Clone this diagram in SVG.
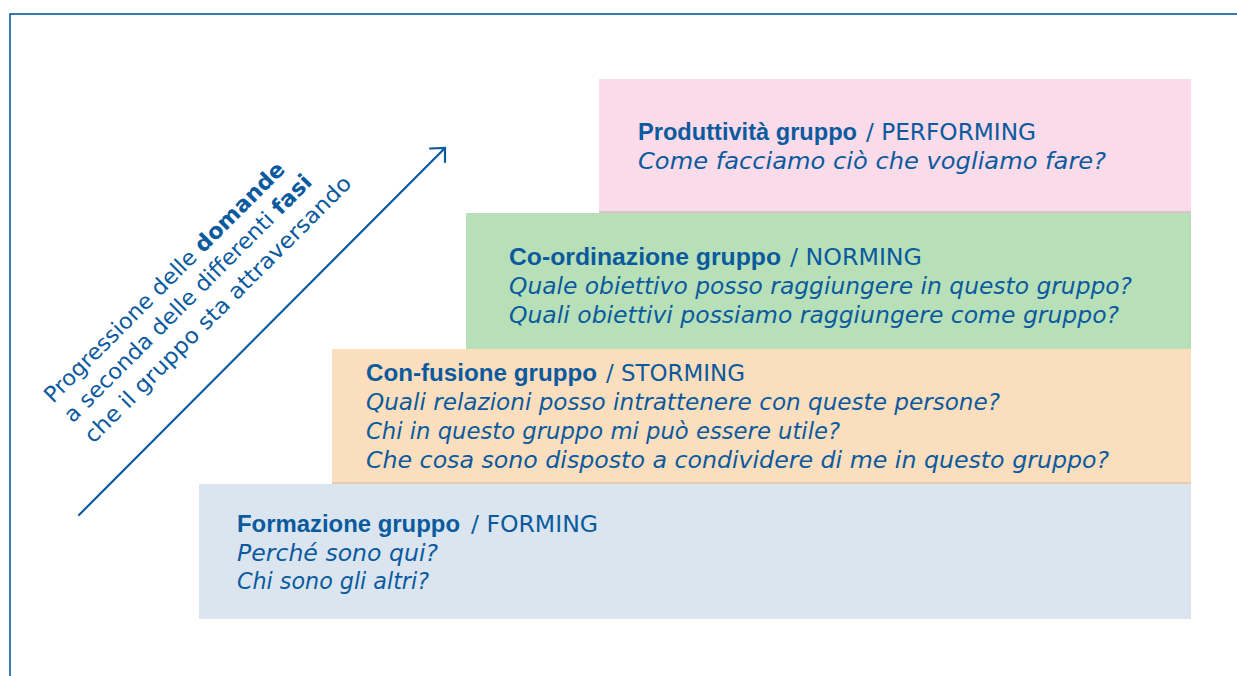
<svg xmlns="http://www.w3.org/2000/svg" width="1237" height="676" viewBox="0 0 1237 676">
<style>
  text { font-family: "DejaVu Sans", "Liberation Sans", sans-serif; font-size: 23px; fill: #0B5A9E; }
  .b { font-weight: bold; }
  .t { font-family: "Liberation Sans", "DejaVu Sans", sans-serif; font-weight: bold; }
  .i { font-style: italic; }
  .rot { font-size: 22px; }
  .frame { fill: none; stroke: #0B5A9E; stroke-width: 1.6; }
  .conn { fill: none; stroke: #0B5A9E; stroke-width: 2.2; stroke-linecap: round; stroke-linejoin: miter; }
</style>
<rect width="1237" height="676" fill="#FFFFFF"/>
<rect class="frame" x="10" y="14" width="1240" height="700"/>

<g id="forming">
  <rect x="199" y="484" width="992" height="135" fill="#DAE5EF"/>
  <text class="t" x="237" y="532" textLength="223" lengthAdjust="spacingAndGlyphs">Formazione gruppo</text>
  <text x="471" y="532" textLength="127" lengthAdjust="spacingAndGlyphs">/ FORMING</text>
  <text class="i" x="237" y="561" textLength="201" lengthAdjust="spacingAndGlyphs">Perché sono qui?</text>
  <text class="i" x="237" y="589" textLength="192" lengthAdjust="spacingAndGlyphs">Chi sono gli altri?</text>
</g>

<g id="storming">
  <rect x="332" y="349" width="859" height="135" fill="#FBDEBD"/>
  <rect x="332" y="482" width="859" height="2" fill="#E6CDAF"/>
  <text class="t" x="366" y="381" textLength="231" lengthAdjust="spacingAndGlyphs">Con-fusione gruppo</text>
  <text x="606" y="381" textLength="139" lengthAdjust="spacingAndGlyphs">/ STORMING</text>
  <text class="i" x="366" y="410" textLength="634" lengthAdjust="spacingAndGlyphs">Quali relazioni posso intrattenere con queste persone?</text>
  <text class="i" x="366" y="439" textLength="474" lengthAdjust="spacingAndGlyphs">Chi in questo gruppo mi può essere utile?</text>
  <text class="i" x="366" y="468" textLength="743" lengthAdjust="spacingAndGlyphs">Che cosa sono disposto a condividere di me in questo gruppo?</text>
</g>

<g id="norming">
  <rect x="466" y="213" width="725" height="136" fill="#B7E0B8"/>
  <text class="t" x="509" y="265" textLength="272" lengthAdjust="spacingAndGlyphs">Co-ordinazione gruppo</text>
  <text x="790" y="265" textLength="132" lengthAdjust="spacingAndGlyphs">/ NORMING</text>
  <text class="i" x="509" y="294" textLength="623" lengthAdjust="spacingAndGlyphs">Quale obiettivo posso raggiungere in questo gruppo?</text>
  <text class="i" x="509" y="323" textLength="610" lengthAdjust="spacingAndGlyphs">Quali obiettivi possiamo raggiungere come gruppo?</text>
</g>

<g id="performing">
  <rect x="599" y="79" width="592" height="134" fill="#F9DBEA"/>
  <rect x="599" y="211" width="592" height="2" fill="#D9C3CB"/>
  <text class="t" x="638" y="140" textLength="219" lengthAdjust="spacingAndGlyphs">Produttività gruppo</text>
  <text x="866" y="140" textLength="170" lengthAdjust="spacingAndGlyphs">/ PERFORMING</text>
  <text class="i" x="638" y="169" textLength="468" lengthAdjust="spacingAndGlyphs">Come facciamo ciò che vogliamo fare?</text>
</g>

<g id="progression-label" transform="translate(53,404) rotate(-45)">
  <text class="rot" x="0" y="0" textLength="330" lengthAdjust="spacingAndGlyphs">Progressione delle <tspan class="b">domande</tspan></text>
  <text class="rot" x="0" y="28" textLength="340" lengthAdjust="spacingAndGlyphs">a seconda delle differenti <tspan class="b">fasi</tspan></text>
  <text class="rot" x="0" y="57" textLength="367" lengthAdjust="spacingAndGlyphs">che il gruppo sta attraversando</text>
</g>

<g id="connectors">
  <line class="conn" x1="79" y1="515" x2="444" y2="149"/>
  <polyline class="conn" points="430,148.5 445,148 445,162"/>
</g>
</svg>
